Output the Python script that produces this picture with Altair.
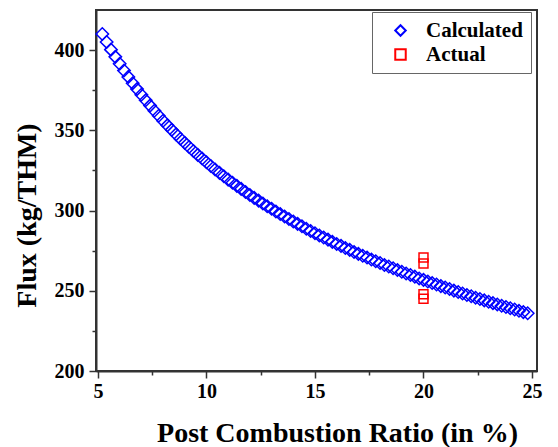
import altair as alt
import pandas as pd

# ---- data ----
calc_x = [5.2, 5.4, 5.6, 5.8, 6.0, 6.2, 6.4, 6.6, 6.8, 7.0,
          7.2, 7.4, 7.6, 7.8, 8.0, 8.2, 8.4, 8.6, 8.8, 9.0,
          9.2, 9.4, 9.6, 9.8, 10.0, 10.2, 10.4, 10.6, 10.8, 11.0,
          11.2, 11.4, 11.6, 11.8, 12.0, 12.2, 12.4, 12.6, 12.8, 13.0,
          13.2, 13.4, 13.6, 13.8, 14.0, 14.2, 14.4, 14.6, 14.8, 15.0,
          15.2, 15.4, 15.6, 15.8, 16.0, 16.2, 16.4, 16.6, 16.8, 17.0,
          17.2, 17.4, 17.6, 17.8, 18.0, 18.2, 18.4, 18.6, 18.8, 19.0,
          19.2, 19.4, 19.6, 19.8, 20.0, 20.2, 20.4, 20.6, 20.8, 21.0,
          21.2, 21.4, 21.6, 21.8, 22.0, 22.2, 22.4, 22.6, 22.8, 23.0,
          23.2, 23.4, 23.6, 23.8, 24.0, 24.2, 24.4, 24.6, 24.8]
calc_y = [410.0, 405.1, 400.3, 395.8, 391.5, 387.3, 383.3, 379.4, 375.7, 372.2,
          368.7, 365.4, 362.2, 359.1, 356.0, 353.1, 350.3, 347.5, 344.8, 342.2,
          339.6, 337.1, 334.7, 332.4, 330.1, 327.8, 325.6, 323.5, 321.4, 319.3,
          317.3, 315.4, 313.5, 311.6, 309.7, 307.9, 306.2, 304.4, 302.7, 301.1,
          299.4, 297.8, 296.3, 294.7, 293.2, 291.7, 290.2, 288.7, 287.3, 285.9,
          284.5, 283.2, 281.9, 280.5, 279.2, 278.0, 276.7, 275.5, 274.2, 273.0,
          271.8, 270.7, 269.5, 268.4, 267.3, 266.1, 265.1, 264.0, 262.9, 261.9,
          260.8, 259.8, 258.8, 257.7, 256.8, 255.8, 254.8, 253.9, 252.9, 252.0,
          251.1, 250.1, 249.2, 248.3, 247.4, 246.6, 245.7, 244.9, 244.0, 243.2,
          242.3, 241.5, 240.7, 239.9, 239.1, 238.3, 237.5, 236.7, 236.0]
actual_x = [20.0, 20.0, 20.0, 20.0]
actual_y = [270.8, 267.0, 247.8, 245.0]

series_names = ["Calculated", "Actual"]
series_colors = ["#0000FF", "#FF0000"]
series_shapes = ["diamond", "square"]

x_ticks = [5, 7.5, 10, 12.5, 15, 17.5, 20, 22.5, 25]
y_ticks = [200, 225, 250, 275, 300, 325, 350, 375, 400]

calc_df = pd.DataFrame({"x": calc_x, "y": calc_y, "series": "Calculated"})
act_df = pd.DataFrame({"x": actual_x, "y": actual_y, "series": "Actual"})

FONT = "Liberation Serif, Times New Roman, serif"

x_enc = alt.X("x:Q", scale=alt.Scale(domain=[4.91, 25.23], nice=False, zero=False),
              axis=alt.Axis(values=x_ticks, title="Post Combustion Ratio (in %)",
                            labelExpr="datum.value % 5 == 0 ? datum.label : ''",
                            tickSize={"condition": {"test": "datum.value % 5 != 0", "value": 4}, "value": 7},
                            labelPadding=3, titleX=241, titleY=62, titleBaseline="middle",
                            titleAlign="center", grid=False))
y_enc = alt.Y("y:Q", scale=alt.Scale(domain=[200, 425], nice=False, zero=False),
              axis=alt.Axis(values=y_ticks, title="Flux (kg/THM)",
                            labelExpr="datum.value % 50 == 0 ? datum.label : ''",
                            tickSize={"condition": {"test": "datum.value % 50 != 0", "value": 4}, "value": 7},
                            labelPadding=5, titleX=-69, titleY=205, titleBaseline="middle",
                            titleAlign="center", titleAngle=-90, grid=False))

color_enc = alt.Color("series:N", scale=alt.Scale(domain=series_names, range=series_colors),
                      legend=alt.Legend(title=None, orient="none", legendX=276, legendY=2,
                                        fillColor="white", strokeColor="#666", padding=8,
                                        labelFontSize=21, labelFont=FONT, labelFontWeight="bold",
                                        labelOffset=15, symbolOffset=10, rowPadding=2,
                                        symbolStrokeWidth=2, symbolSize=110,
                                        symbolFillColor="transparent"))
shape_enc = alt.Shape("series:N", scale=alt.Scale(domain=series_names, range=series_shapes),
                      legend=None)

calc = alt.Chart(calc_df).mark_point(filled=False, size=155, strokeWidth=1.5, opacity=1).encode(
    x=x_enc, y=y_enc, color=color_enc, shape=shape_enc)
act = alt.Chart(act_df).mark_point(filled=False, size=80, strokeWidth=1.5, opacity=1).encode(
    x="x:Q", y="y:Q", color=alt.Color("series:N"), shape=alt.Shape("series:N"))

chart = alt.layer(calc, act).properties(
    width=441, height=361,
    autosize=alt.AutoSizeParams(type="none"),
    padding={"left": 96, "top": 10, "right": 21, "bottom": 76},
).configure_view(stroke="#333", strokeWidth=2).configure_axis(
    labelFont=FONT, labelFontSize=20, labelFontWeight="bold", labelColor="black",
    titleFont=FONT, titleFontSize=28, titleFontWeight="bold", titleColor="black",
    domainColor="#333", domainWidth=2, tickColor="#333", tickWidth=1.5,
).configure_legend(labelColor="black")

chart.save("out.html", embed_options={"renderer": "svg", "actions": False})
